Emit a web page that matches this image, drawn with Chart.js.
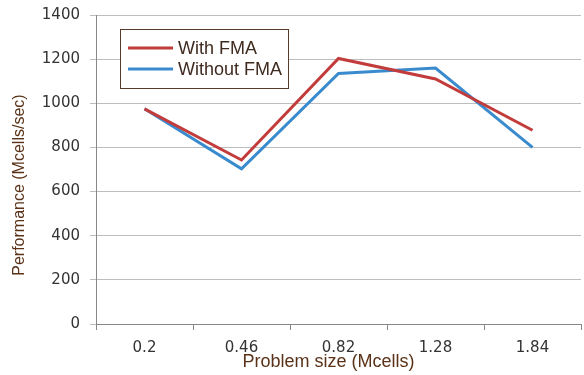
<!DOCTYPE html>
<html>
<head>
<meta charset="utf-8">
<script src="https://cdn.jsdelivr.net/npm/chart.js@4.4.1/dist/chart.umd.min.js"></script>
<style>
  html, body { margin: 0; padding: 0; background: #fff; }
  #wrap { width: 584px; height: 375px; }
</style>
</head>
<body>
<div id="wrap"><canvas id="chart" width="584" height="375"></canvas></div>
<script>
// data
const sizes = ['0.2', '0.46', '0.82', '1.28', '1.84'];
const withFma = [975, 743, 1203, 1110, 878];
const withoutFma = [975, 703, 1135, 1160, 800];
const yTicks = [0, 200, 400, 600, 800, 1000, 1200, 1400];

const RED = '#c23c3c';
const BLUE = '#3a8bcd';
const BROWN = '#5a3218';

// boxed legend drawn inside the plot area (top left)
const boxLegend = {
  id: 'boxLegend',
  afterDraw(chart){
    const ctx = chart.ctx;
    const a = chart.chartArea;
    const x = a.left + 24, y = a.top + 14, w = 168, h = 59;
    ctx.save();
    ctx.fillStyle = '#fff';
    ctx.fillRect(x, y, w, h);
    ctx.strokeStyle = '#5a3a2c';
    ctx.lineWidth = 1;
    ctx.strokeRect(x + 0.5, y + 0.5, w, h);
    ctx.font = '18px "Liberation Sans", Arial, sans-serif';
    ctx.textBaseline = 'middle';
    chart.data.datasets.forEach((ds, i) => {
      const ly = y + 19 + i * 21;
      ctx.strokeStyle = ds.borderColor;
      ctx.lineWidth = 3;
      ctx.beginPath();
      ctx.moveTo(x + 8, ly);
      ctx.lineTo(x + 53, ly);
      ctx.stroke();
      ctx.fillStyle = '#3f2a1f';
      ctx.fillText(ds.label, x + 58, ly + 1);
    });
    ctx.restore();
  }
};

new Chart(document.getElementById('chart'), {
  type: 'line',
  data: {
    labels: sizes,
    datasets: [
      { label: 'With FMA', data: withFma, borderColor: RED, backgroundColor: RED, borderWidth: 3, pointRadius: 0, tension: 0 },
      { label: 'Without FMA', data: withoutFma, borderColor: BLUE, backgroundColor: BLUE, borderWidth: 3, pointRadius: 0, tension: 0 }
    ]
  },
  options: {
    responsive: false,
    animation: false,
    layout: { padding: { top: 15, right: 3, left: 10, bottom: 0 } },
    plugins: { legend: { display: false }, tooltip: { enabled: false } },
    scales: {
      x: {
        offset: true,
        grid: { offset: true, drawOnChartArea: false, drawTicks: true, tickLength: 6, color: '#888' },
        border: { color: '#888', width: 1 },
        ticks: { color: '#333', font: { family: '"DejaVu Sans", Verdana, sans-serif', size: 15 }, padding: 9, maxRotation: 0 },
        title: { display: true, text: 'Problem size (Mcells)    ', color: BROWN, font: { family: '"Liberation Sans", Arial, sans-serif', size: 18 }, padding: { top: 0, bottom: 2 } },
        afterFit(scale){ scale.height = 51; }
      },
      y: {
        min: 0,
        max: 1400,
        afterBuildTicks(scale){ scale.ticks = yTicks.map(v => ({ value: v })); },
        grid: { color: '#bdbdbd', drawTicks: true, tickLength: 6 },
        border: { color: '#888', width: 1 },
        ticks: { color: '#333', font: { family: '"DejaVu Sans", Verdana, sans-serif', size: 15 }, padding: 10, callback: v => String(v) },
        title: { display: true, text: 'Performance (Mcells/sec)       ', color: BROWN, font: { family: '"Liberation Sans", Arial, sans-serif', size: 16 }, padding: { top: 0, bottom: 4 } },
        afterFit(scale){ scale.width = 86; scale.paddingTop = 0; scale.paddingBottom = 0; }
      }
    }
  },
  plugins: [boxLegend]
});
</script>
</body>
</html>
